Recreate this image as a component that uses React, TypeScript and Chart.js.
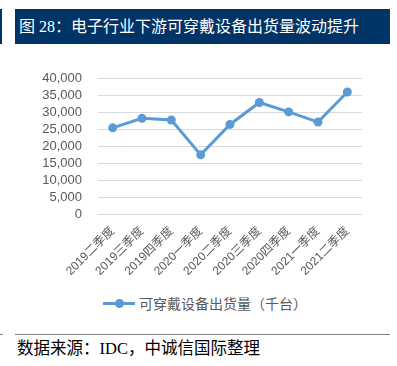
import React, { useEffect, useRef } from "react";
import { Chart, registerables } from "chart.js";

Chart.register(...registerables);

const categories = [
  "2019二季度",
  "2019三季度",
  "2019四季度",
  "2020一季度",
  "2020二季度",
  "2020三季度",
  "2020四季度",
  "2021一季度",
  "2021二季度",
];
const shipments = [25500, 28300, 27800, 17500, 26500, 33000, 30200, 27200, 36100];
const seriesName = "可穿戴设备出货量（千台）";
const titleText = "图 28：电子行业下游可穿戴设备出货量波动提升";
const sourceText = "数据来源：IDC，中诚信国际整理";
const yMin = 0;
const yMax = 40000;
const yStep = 5000;

const NAVY = "#003366";
const BLUE = "#5b9bd5";
const GRAY_TEXT = "#595959";

export default function App() {
  const canvasRef = useRef<HTMLCanvasElement | null>(null);

  useEffect(() => {
    if (!canvasRef.current) return;
    const chart = new Chart(canvasRef.current, {
      type: "line",
      data: {
        labels: categories,
        datasets: [
          {
            label: seriesName,
            data: shipments,
            borderColor: BLUE,
            backgroundColor: BLUE,
            borderWidth: 3,
            pointRadius: 4.5,
            pointBackgroundColor: BLUE,
            pointBorderColor: BLUE,
            pointBorderWidth: 0,
            tension: 0,
          },
        ],
      },
      options: {
        responsive: false,
        animation: false,
        devicePixelRatio: 1,
        layout: { padding: { top: 8, right: 35, left: 0, bottom: 0 } },
        plugins: {
          legend: { display: false },
          tooltip: { enabled: false },
        },
        scales: {
          x: {
            offset: true,
            grid: { display: false, drawTicks: false },
            border: { display: false },
            ticks: {
              minRotation: 45,
              maxRotation: 45,
              padding: 10,
              color: GRAY_TEXT,
              autoSkip: false,
              font: { family: "'Liberation Sans', 'Noto Sans CJK SC'", size: 12 },
            },
            afterFit: (scale: any) => {
              scale.height = 71;
            },
          },
          y: {
            min: yMin,
            max: yMax,
            grid: { color: "#d9d9d9", lineWidth: 1, drawTicks: false },
            border: { display: false },
            ticks: {
              stepSize: yStep,
              autoSkip: false,
              padding: 16,
              color: GRAY_TEXT,
              font: { family: "'Liberation Sans'", size: 13 },
              callback: (v: any) => Number(v).toLocaleString("en-US"),
            },
            afterFit: (scale: any) => {
              scale.width = 98;
            },
          },
        },
      },
    });
    return () => chart.destroy();
  }, []);

  return (
    <div
      style={{
        position: "fixed",
        left: 0,
        top: 0,
        width: 397,
        height: 366,
        background: "#fff",
        overflow: "hidden",
      }}
    >
      <div style={{ position: "absolute", left: 0, top: 9, width: 2, height: 35, background: NAVY }} />
      <div
        style={{
          position: "absolute",
          left: 15,
          top: 9,
          width: 375,
          height: 35,
          background: NAVY,
          color: "#fff",
          fontFamily: "'Liberation Serif', 'Noto Sans CJK SC'",
          fontSize: 16,
          lineHeight: "35px",
          paddingLeft: 4,
          boxSizing: "border-box",
          whiteSpace: "nowrap",
        }}
      >
        {titleText}
      </div>
      <canvas
        ref={canvasRef}
        width={397}
        height={230}
        style={{ position: "absolute", left: 0, top: 55, width: 397, height: 230 }}
      />
      <div
        style={{
          position: "absolute",
          left: 103,
          top: 294,
          height: 18,
          display: "flex",
          alignItems: "center",
          fontFamily: "'Noto Sans CJK SC'",
          fontSize: 14,
          color: GRAY_TEXT,
          whiteSpace: "nowrap",
        }}
      >
        <span style={{ position: "relative", display: "inline-block", width: 32, height: 18, marginRight: 4 }}>
          <span style={{ position: "absolute", left: 0, top: 8, width: 32, height: 3, background: BLUE }} />
          <span
            style={{
              position: "absolute",
              left: 12,
              top: 5,
              width: 9,
              height: 9,
              borderRadius: "50%",
              background: BLUE,
            }}
          />
        </span>
        <span>{seriesName}</span>
      </div>
      <div style={{ position: "absolute", left: 0, top: 334, width: 3, height: 1, background: "#7f7f7f" }} />
      <div style={{ position: "absolute", left: 15, top: 334, width: 375, height: 1, background: "#7f7f7f" }} />
      <div
        style={{
          position: "absolute",
          left: 17,
          top: 339,
          fontFamily: "'Liberation Serif', 'Noto Sans CJK SC'",
          fontSize: 16.5,
          lineHeight: "20px",
          color: "#000",
          whiteSpace: "nowrap",
        }}
      >
        {sourceText}
      </div>
    </div>
  );
}
